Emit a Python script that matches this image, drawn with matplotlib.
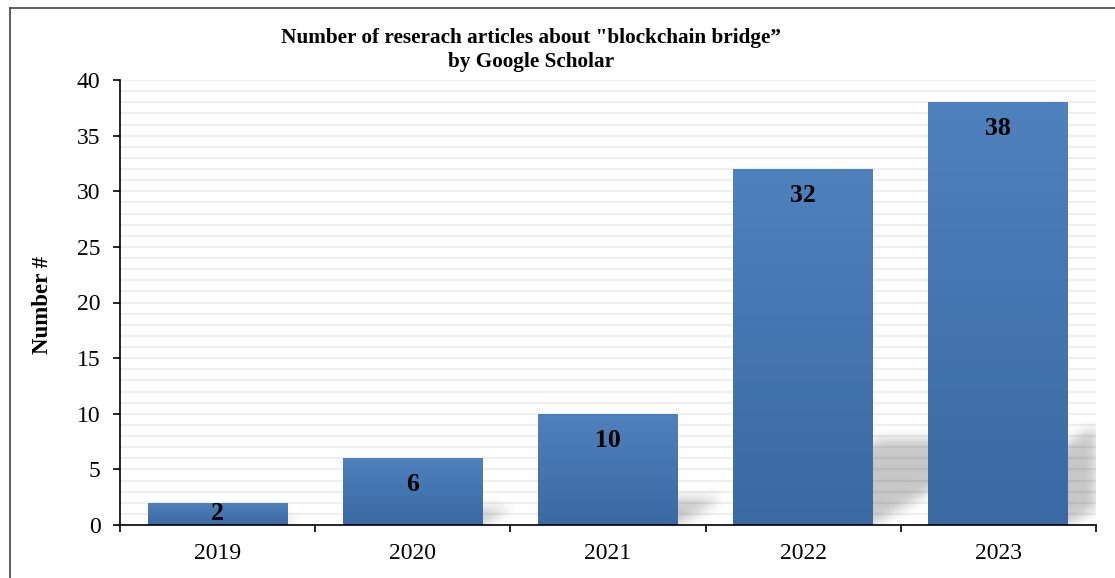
import numpy as np
import matplotlib
matplotlib.use("Agg")
import matplotlib.pyplot as plt
from matplotlib.lines import Line2D
from matplotlib.colors import LinearSegmentedColormap

# ---- data ----
years = ["2019", "2020", "2021", "2022", "2023"]
counts = [2, 6, 10, 32, 38]
title_text = 'Number of reserach articles about "blockchain bridge”\nby Google Scholar'
ylabel_text = "Number #"
yticks = [0, 5, 10, 15, 20, 25, 30, 35, 40]

plt.rcParams['font.family'] = ['Liberation Serif', 'DejaVu Serif']

W, H = 1115, 578
fig = plt.figure(figsize=(W / 100, H / 100), dpi=100)
ax = fig.add_axes([120 / W, (H - 525) / H, (1096 - 120) / W, (525 - 80) / H])

n = len(years)
x = np.arange(n)
bw = 0.717
ax.set_xlim(-0.5, n - 0.5)
ax.set_ylim(0, 40)

# light gridlines every unit
for yv in range(1, 41):
    ax.axhline(yv, color='#efefef', lw=1.6, zorder=0)

# ---- blurred shadows ----
nx, ny = 1000, 450
gx = np.linspace(-0.5, n - 0.5, nx)
gy = np.linspace(0, 40, ny)
GX, GY = np.meshgrid(gx, gy)
mask = np.zeros_like(GX)
px_x = (1096 - 120) / n      # px per category unit
px_y = (525 - 80) / 40       # px per y unit
for xi, v in zip(x, counts):
    hs = 0.24 * v
    shear = 1.7 * px_y / px_x  # data-x per data-y
    inside = (GY >= 0) & (GY <= hs) & (GX >= xi - bw / 2 + shear * GY) & (GX <= xi + bw / 2 + shear * GY)
    mask = np.maximum(mask, inside.astype(float))

def blur1d(a, sigma, axis):
    r = int(3 * sigma) + 1
    k = np.exp(-0.5 * (np.arange(-r, r + 1) / sigma) ** 2)
    k /= k.sum()
    return np.apply_along_axis(lambda m: np.convolve(m, k, mode='same'), axis, a)

mask = blur1d(mask, 6, 1)
mask = blur1d(mask, 6, 0)
rgba = np.zeros((ny, nx, 4))
rgba[..., :3] = 0.0
rgba[..., 3] = mask * 0.22
ax.imshow(rgba, extent=(-0.5, n - 0.5, 0, 40), origin='lower', aspect='auto',
          zorder=1, interpolation='bilinear')

# ---- gradient bars ----
cmap = LinearSegmentedColormap.from_list('bar', ['#3b69a1', '#4f81bd'])
grad = np.linspace(0, 1, 256).reshape(-1, 1)
bars = ax.bar(x, counts, width=bw, color='#4675b0', zorder=2, linewidth=0)
for b in bars:
    x0, y0 = b.get_x(), b.get_y()
    im = ax.imshow(grad, extent=(x0, x0 + b.get_width(), 0, b.get_height()),
                   origin='lower', aspect='auto', cmap=cmap, zorder=3)
    im.set_clip_path(b)

# value labels
for xi, v in zip(x, counts):
    ax.text(xi, max(v - 2.4, v / 2), str(v), ha='center', va='center',
            fontsize=18.5, fontweight='bold', color='black', zorder=5)

ax.set_xlim(-0.5, n - 0.5)
ax.set_ylim(0, 40)

# axes styling
for s in ['top', 'right']:
    ax.spines[s].set_visible(False)
for s in ['left', 'bottom']:
    ax.spines[s].set_linewidth(1.2)
    ax.spines[s].set_zorder(6)

ax.set_yticks(yticks)
ax.set_yticklabels([str(t) for t in yticks])
ax.tick_params(axis='y', direction='out', length=5, width=1.2, pad=9, labelsize=17)
ax.set_xticks(x)
ax.set_xticklabels(years)
ax.tick_params(axis='x', which='major', length=0, pad=13, labelsize=17)
ax.set_xticks(np.arange(-0.5, n, 1), minor=True)
ax.tick_params(axis='x', which='minor', direction='out', length=5, width=1.2)

# title and y label
fig.text(531 / W, 1 - 50 / H, title_text, ha='center', va='center',
         fontsize=15.3, fontweight='bold', linespacing=1.2)
fig.text(42 / W, 1 - 305 / H, ylabel_text, ha='center', va='center',
         rotation=90, fontsize=16.5, fontweight='bold')

# figure border (top and left)
fig.add_artist(Line2D([10 / W, 1.0], [1 - 8 / H, 1 - 8 / H], color='#444444', lw=1.2,
                      transform=fig.transFigure))
fig.add_artist(Line2D([10 / W, 10 / W], [0, 1 - 8 / H], color='#444444', lw=1.2,
                      transform=fig.transFigure))

fig.savefig('out.png', dpi=100)
